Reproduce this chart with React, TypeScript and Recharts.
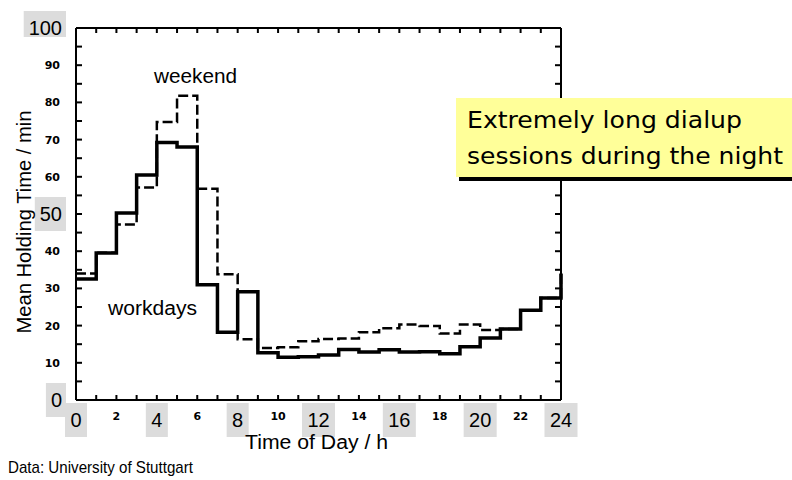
import React from "react";
import { LineChart, Line, XAxis, YAxis } from "recharts";

const hours = [0, 1, 2, 3, 4, 5, 6, 7, 8, 9, 10, 11, 12, 13, 14, 15, 16, 17, 18, 19, 20, 21, 22, 23, 24];
const workdays = [32.5, 39.5, 50.3, 60.5, 69.2, 68.0, 31.0, 18.2, 29.1, 12.7, 11.5, 11.6, 12.1, 13.6, 12.9, 13.5, 12.9, 13.0, 12.4, 14.3, 16.7, 19.1, 24.1, 27.4, 34.0];
const weekend = [34.0, 39.6, 47.2, 57.1, 74.7, 81.8, 56.8, 33.8, 16.3, 14.0, 14.2, 15.8, 16.4, 16.5, 18.2, 19.3, 20.3, 19.9, 17.9, 20.3, 18.8, 19.1, 24.1, 27.4, 34.0];

const xTicks = hours;
const yTicks = [0, 5, 10, 15, 20, 25, 30, 35, 40, 45, 50, 55, 60, 65, 70, 75, 80, 85, 90, 95, 100];
const xBigLabels = [0, 4, 8, 12, 16, 20, 24];
const xSmallLabels = [2, 6, 10, 14, 18, 22];
const yBigLabels = [0, 50, 100];
const ySmallLabels = [10, 20, 30, 40, 60, 70, 80, 90];

const data = hours.map((h, i) => ({ hour: h, workdays: workdays[i], weekend: weekend[i] }));

const BIG_FONT = "'Liberation Sans', Arial, sans-serif";
const SMALL_FONT = "'DejaVu Sans', sans-serif";
const BOX_FILL = "#dcdcdc";
const TICK_COLOR = "#000";

function BottomTick(props: any) {
  const { x, y, payload } = props;
  const v = payload.value;
  const s = String(v);
  let label: React.ReactNode = null;
  if (xBigLabels.includes(v)) {
    const w = s.length === 1 ? 22 : 33;
    label = (
      <g>
        <rect x={x - w / 2} y={y + 3} width={w} height={34} fill={BOX_FILL} />
        <text x={x} y={y + 27} textAnchor="middle" fontFamily={BIG_FONT} fontSize={20} fill="#000">{s}</text>
      </g>
    );
  } else if (xSmallLabels.includes(v)) {
    label = (
      <text x={x} y={y + 20} textAnchor="middle" fontFamily={SMALL_FONT} fontWeight="bold" fontSize={11} fill="#000">{s}</text>
    );
  }
  return (
    <g>
      <rect x={x - 1} y={y - 5} width={2} height={5} fill={TICK_COLOR} />
      {label}
    </g>
  );
}

function TopTick(props: any) {
  const { x, y } = props;
  return <rect x={x - 1} y={y} width={2} height={5} fill={TICK_COLOR} />;
}

function LeftTick(props: any) {
  const { x, y, payload } = props;
  const v = payload.value;
  const s = String(v);
  let label: React.ReactNode = null;
  if (yBigLabels.includes(v)) {
    const tw = s.length * 11.1;
    const right = x - 14;
    const h = v === 100 ? 26 : 34;
    label = (
      <g>
        <rect x={right - tw - 5} y={y - 17} width={tw + 9} height={h} fill={BOX_FILL} />
        <text x={right} y={y + 7} textAnchor="end" fontFamily={BIG_FONT} fontSize={20} fill="#000">{s}</text>
      </g>
    );
  } else if (ySmallLabels.includes(v)) {
    label = (
      <text x={x - 16} y={y + 4} textAnchor="end" fontFamily={SMALL_FONT} fontWeight="bold" fontSize={11} fill="#000">{s}</text>
    );
  }
  return (
    <g>
      <rect x={x} y={y - 1} width={6} height={2} fill={TICK_COLOR} />
      {label}
    </g>
  );
}

function RightTick(props: any) {
  const { x, y } = props;
  return <rect x={x - 6} y={y - 1} width={6} height={2} fill={TICK_COLOR} />;
}

const axisLine = { stroke: "#000", strokeWidth: 2 };

export default function App() {
  return (
    <div style={{ position: "absolute", left: 0, top: 0, width: 792, height: 480, background: "#fff" }}>
      <LineChart
        width={792}
        height={480}
        data={data}
        margin={{ top: 26, right: 229, bottom: 50, left: 36 }}
      >
        <XAxis
          xAxisId="bottom"
          dataKey="hour"
          type="number"
          domain={[0, 24]}
          ticks={xTicks}
          interval={0}
          height={30}
          tickSize={0}
          tickMargin={0}
          tickLine={false}
          axisLine={axisLine}
          tick={(p: any) => <BottomTick {...p} />}
        />
        <XAxis
          xAxisId="top"
          orientation="top"
          dataKey="hour"
          type="number"
          domain={[0, 24]}
          ticks={xTicks}
          interval={0}
          height={2}
          tickSize={0}
          tickMargin={0}
          tickLine={false}
          axisLine={axisLine}
          tick={(p: any) => <TopTick {...p} />}
        />
        <YAxis
          yAxisId="left"
          type="number"
          domain={[0, 100]}
          ticks={yTicks}
          interval={0}
          width={40}
          tickSize={0}
          tickMargin={0}
          tickLine={false}
          axisLine={axisLine}
          tick={(p: any) => <LeftTick {...p} />}
        />
        <YAxis
          yAxisId="right"
          orientation="right"
          type="number"
          domain={[0, 100]}
          ticks={yTicks}
          interval={0}
          width={2}
          tickSize={0}
          tickMargin={0}
          tickLine={false}
          axisLine={axisLine}
          tick={(p: any) => <RightTick {...p} />}
        />
        <Line
          xAxisId="top"
          yAxisId="right"
          type="stepAfter"
          dataKey="workdays"
          stroke="none"
          strokeWidth={0}
          dot={false}
          activeDot={false}
          legendType="none"
          isAnimationActive={false}
        />
        <Line
          xAxisId="bottom"
          yAxisId="left"
          type="stepAfter"
          dataKey="weekend"
          stroke="#000"
          strokeWidth={2.5}
          strokeDasharray="10 4"
          dot={false}
          activeDot={false}
          isAnimationActive={false}
        />
        <Line
          xAxisId="bottom"
          yAxisId="left"
          type="stepAfter"
          dataKey="workdays"
          stroke="#000"
          strokeWidth={3.5}
          dot={false}
          activeDot={false}
          isAnimationActive={false}
        />
      </LineChart>
      <svg
        width={792}
        height={480}
        style={{ position: "absolute", left: 0, top: 0, pointerEvents: "none" }}
      >
        <text x={0} y={0} transform="translate(31,222) rotate(-90)" textAnchor="middle" fontFamily={BIG_FONT} fontSize={20} fill="#000" textLength={223} lengthAdjust="spacingAndGlyphs">Mean Holding Time / min</text>
        <text x={245} y={449} fontFamily={BIG_FONT} fontSize={20} fill="#000" textLength={143} lengthAdjust="spacingAndGlyphs">Time of Day / h</text>
        <text x={154} y={83} fontFamily={BIG_FONT} fontSize={20} fill="#000" textLength={83} lengthAdjust="spacingAndGlyphs">weekend</text>
        <text x={108} y={315} fontFamily={BIG_FONT} fontSize={20} fill="#000" textLength={89} lengthAdjust="spacingAndGlyphs">workdays</text>
        <text x={8} y={473} fontFamily="'Liberation Sans Narrow', 'Liberation Sans', Arial, sans-serif" fontSize={17} fill="#000" textLength={185} lengthAdjust="spacingAndGlyphs">Data: University of Stuttgart</text>
        <rect x={459} y={176} width={333} height={5} fill="#000" />
        <rect x={456} y={98} width={336} height={79} fill="#ffff99" />
        <text x={467} y={128} fontFamily="'DejaVu Sans', Verdana, sans-serif" fontSize={23} fill="#000" textLength={275} lengthAdjust="spacingAndGlyphs">Extremely long dialup</text>
        <text x={467} y={164} fontFamily="'DejaVu Sans', Verdana, sans-serif" fontSize={23} fill="#000" textLength={316} lengthAdjust="spacingAndGlyphs">sessions during the night</text>
      </svg>
    </div>
  );
}
